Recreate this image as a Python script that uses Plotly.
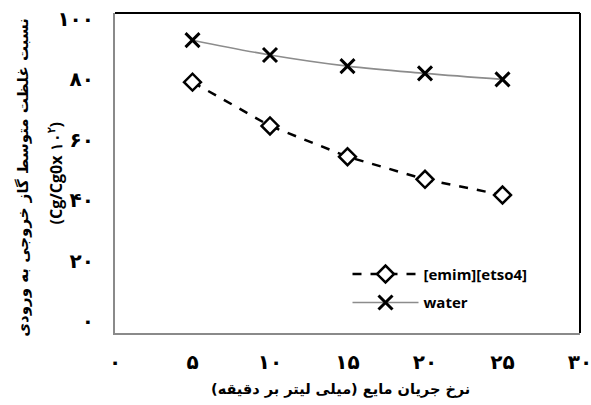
import plotly.graph_objects as go

flow = [5, 10, 15, 20, 25]
emim = [79.1, 64.6, 54.4, 46.9, 41.7]
water = [93.0, 88.1, 84.4, 82.0, 80.0]

x_ticks = [0, 5, 10, 15, 20, 25, 30]
x_tick_text = ["۰", "۵", "۱۰", "۱۵", "۲۰", "۲۵", "۳۰"]
y_ticks = [0, 20, 40, 60, 80, 100]
y_tick_text = ["۰", "۲۰", "۴۰", "۶۰", "۸۰", "۱۰۰"]

x_title = "نرخ جریان مایع (میلی لیتر بر دقیقه)"
y_title_1 = "نسبت غلظت متوسط گاز خروجی به ورودی"
y_title_2 = "(Cg/Cg0x ۱۰<sup>۲</sup>)"

fa_font = "DejaVu Sans, Noto Sans, sans-serif"
lat_font = "Open Sans, Liberation Sans, sans-serif"

fig = go.Figure()
fig.add_trace(go.Scatter(
    x=flow, y=emim, name="[emim][etso4]", mode="lines+markers",
    legendgroup="a",
    line=dict(color="black", width=2.5, dash="dash"),
    marker=dict(symbol="diamond", size=13, color="white",
                line=dict(color="black", width=2.5)),
))
fig.add_trace(go.Scatter(
    x=flow, y=water, name="water", mode="lines+markers",
    legendgroup="b",
    line=dict(color="#8c8c8c", width=1.6, shape="spline"),
    marker=dict(symbol="x-thin", size=14, color="black",
                line=dict(color="black", width=3)),
))

fig.update_layout(
    width=591, height=405,
    margin=dict(l=115, r=11, t=13, b=72, autoexpand=False),
    plot_bgcolor="white", paper_bgcolor="white",
    showlegend=True,
    legend=dict(x=0.5, y=0.235, xanchor="left", yanchor="top",
                bgcolor="rgba(0,0,0,0)", itemwidth=66,
                traceorder="grouped", tracegroupgap=6,
                font=dict(family=lat_font, size=15,
                          color="black", weight="bold")),
    xaxis=dict(range=[0, 30], tickvals=x_ticks, ticktext=x_tick_text,
               showgrid=False, zeroline=False, showline=True,
               linecolor="#8a8a8a", linewidth=2, ticks="",
               ticklabelstandoff=10, ticklabeloverflow="allow", automargin=False,
               tickfont=dict(family=fa_font, size=20, color="black", weight="bold")),
    yaxis=dict(range=[-4, 102], tickvals=y_ticks, ticktext=y_tick_text,
               showgrid=False, zeroline=False, showline=True,
               linecolor="#8a8a8a", linewidth=2, ticks="",
               ticklabelstandoff=15, ticklabeloverflow="allow", automargin=False,
               tickfont=dict(family=fa_font, size=20, color="black", weight="bold")),
    shapes=[
        dict(type="line", xref="paper", yref="paper", x0=0, x1=1, y0=1, y1=1,
             line=dict(color="black", width=2)),
        dict(type="line", xref="paper", yref="paper", x0=1, x1=1, y0=0, y1=1,
             line=dict(color="black", width=2)),
    ],
    annotations=[
        dict(text=x_title, xref="paper", yref="paper", x=0.485, y=-0.175,
             xanchor="center", yanchor="middle", showarrow=False,
             font=dict(family=fa_font, size=14.5, color="black", weight="bold")),
        dict(text=y_title_1, xref="paper", yref="paper", x=-0.198, y=0.488,
             xanchor="center", yanchor="middle", textangle=-90, showarrow=False,
             font=dict(family=fa_font, size=15, color="black", weight="bold")),
        dict(text=y_title_2, xref="paper", yref="paper", x=-0.128, y=0.5,
             xanchor="center", yanchor="middle", textangle=-90, showarrow=False,
             font=dict(family=lat_font, size=16, color="black", weight="bold")),
    ],
)

fig.write_html("out.html")
